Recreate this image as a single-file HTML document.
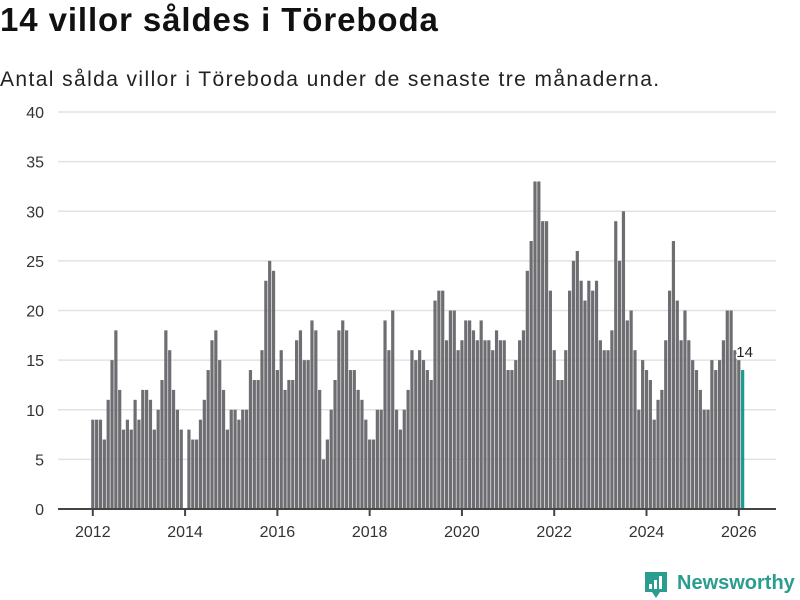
<!DOCTYPE html>
<html><head><meta charset="utf-8"><style>
body{margin:0;background:#fff;font-family:"Liberation Sans",sans-serif;}
#wrap{position:relative;width:800px;height:600px;overflow:hidden;}
h1{position:absolute;left:0;top:1px;margin:0;font-size:33px;font-weight:bold;color:#111;letter-spacing:0.9px}
p{position:absolute;left:0;top:68px;margin:0;font-size:21px;color:#222;letter-spacing:1.4px}
</style></head><body>
<div id="wrap">
<h1>14 villor såldes i Töreboda</h1>
<p>Antal sålda villor i Töreboda under de senaste tre månaderna.</p>
<svg id="chart" width="800" height="600" style="position:absolute;left:0;top:0"></svg>
</div>
<script>
const startYear = 2012;
const values = [
9,9,9,7,11,15,18,12,8,9,8,11,
9,12,12,11,8,10,13,18,16,12,10,8,
0,8,7,7,9,11,14,17,18,15,12,8,
10,10,9,10,10,14,13,13,16,23,25,24,
14,16,12,13,13,17,18,15,15,19,18,12,
5,7,10,13,18,19,18,14,14,12,11,9,
7,7,10,10,19,16,20,10,8,10,12,16,
15,16,15,14,13,21,22,22,17,20,20,16,
17,19,19,18,17,19,17,17,16,18,17,17,
14,14,15,17,18,24,27,33,33,29,29,22,
16,13,13,16,22,25,26,23,21,23,22,23,
17,16,16,18,29,25,30,19,20,16,10,15,
14,13,9,11,12,17,22,27,21,17,20,17,
15,14,12,10,10,15,14,15,17,20,20,16,
15,14];
const yTicks = [0,5,10,15,20,25,30,35,40];
const xTicks = [2012,2014,2016,2018,2020,2022,2024,2026];

const NS="http://www.w3.org/2000/svg";
const svg=document.getElementById('chart');
const y=v=>509-v*(397/40);
const x=yr=>92.8+(yr-2012)*(646/14);
function mk(t,a){const e=document.createElementNS(NS,t);for(const k in a)e.setAttribute(k,a[k]);svg.appendChild(e);return e;}

yTicks.forEach(t=>{
  if(t>0){const g=mk('line',{x1:58,x2:776,y1:y(t),y2:y(t),stroke:'#e2e2e2','stroke-width':1.5});
  
  }
  const l=mk('text',{x:44,y:y(t)+6,'text-anchor':'end','font-size':16,fill:'#333','font-family':'Liberation Sans, sans-serif'});
  l.textContent=t;
  
  
});
values.forEach((v,i)=>{
  const cx=x(startYear+i/12);
  const last=i===values.length-1;
  const r=mk('rect',{x:cx-1.6,y:y(v),width:3.2,height:509-y(v),fill:last?'#1a9b8f':'#6e6d72'});
  
  
  if(last){
    const t=mk('text',{x:cx+2,y:y(v)-13,'text-anchor':'middle','font-size':15,fill:'#222',stroke:'#fff','stroke-width':3,'paint-order':'stroke','font-family':'Liberation Sans, sans-serif'});
    t.textContent=v;
    
    
  }
});
const ax=mk('line',{x1:58,x2:776,y1:509,y2:509,stroke:'#444','stroke-width':2});


xTicks.forEach(t=>{
  const k=mk('line',{x1:x(t),x2:x(t),y1:509,y2:516,stroke:'#444','stroke-width':2});
  
  
  const l=mk('text',{x:x(t),y:537,'text-anchor':'middle','font-size':16,fill:'#333','font-family':'Liberation Sans, sans-serif'});
  l.textContent=t;
  
  
});
const lg=mk('g',{});


const ic=mk('path',{d:'M645 572 h22 v20 h-7 l-4 6 l-4 -6 h-7 z',fill:'#2a9d8f'});


[[649,584,3,5],[654,580,3,9],[659,576,3,13]].forEach(b=>{const r=mk('rect',{x:b[0],y:b[1],width:b[2],height:b[3],fill:'#fff'});

});
const lt=mk('text',{x:677,y:589,'font-size':20,'font-weight':'bold',fill:'#2a9d8f','font-family':'Liberation Sans, sans-serif'});
lt.textContent='Newsworthy';


</script>
</body></html>
